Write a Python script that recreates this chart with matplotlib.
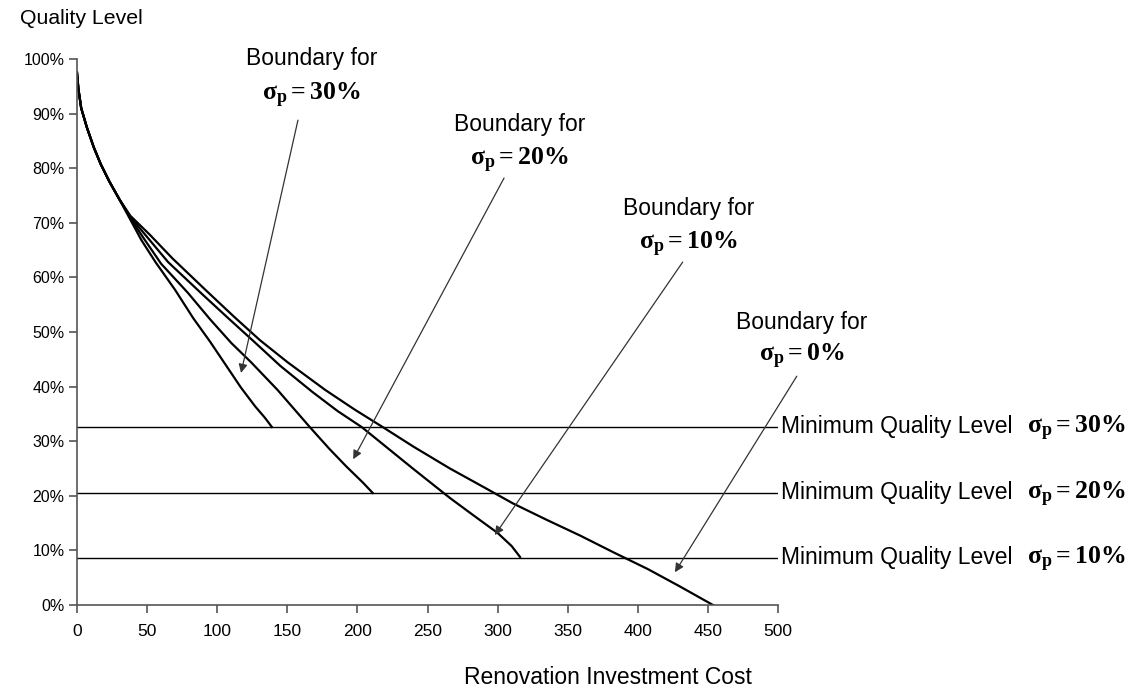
import numpy as np
import matplotlib
matplotlib.use("Agg")
import matplotlib.pyplot as plt
from matplotlib.ticker import FuncFormatter

plt.rcParams['font.family'] = ['Liberation Sans', 'DejaVu Sans']
plt.rcParams['mathtext.fontset'] = 'custom'
plt.rcParams['mathtext.rm'] = 'Liberation Serif:bold'
plt.rcParams['mathtext.it'] = 'Liberation Serif:bold'
plt.rcParams['mathtext.bf'] = 'Liberation Serif:bold'

# shared start of all boundaries
start_x = [0, 1, 3, 7, 12, 17, 23, 30]
start_y = [97.5, 94.5, 91.0, 87.5, 83.8, 80.7, 77.6, 74.4]

b30_x = [38, 46, 56, 70, 83, 95, 106, 117, 127, 134, 139]
b30_y = [70.6, 66.8, 62.8, 57.7, 52.5, 48.2, 44.0, 39.8, 36.4, 34.3, 32.6]

b20_x = [38, 48, 60, 79, 95, 110, 124, 143, 166, 180, 192, 204, 211]
b20_y = [70.9, 67.0, 62.5, 57.2, 52.3, 48.0, 44.5, 39.4, 32.6, 28.6, 25.4, 22.4, 20.5]

b10_x = [38, 50, 65, 89, 108, 126, 145, 168, 186, 203, 216, 240, 266, 285, 300, 310, 316]
b10_y = [71.1, 67.4, 62.8, 57.0, 52.5, 48.3, 43.8, 39.0, 35.5, 32.6, 29.9, 24.9, 19.6, 16.0, 13.2, 10.8, 8.8]

b0_x = [38, 52, 68, 92.5, 112, 130.5, 150, 177, 198, 218, 240, 266, 290, 311, 335, 359, 383, 407, 430, 453.6]
b0_y = [71.3, 67.8, 63.5, 57.5, 52.8, 48.5, 44.5, 39.4, 35.8, 32.6, 29.0, 25.0, 21.6, 18.6, 15.6, 12.7, 9.6, 6.6, 3.4, 0.0]

min_levels = [32.6, 20.5, 8.6]
min_labels = ['30%', '20%', '10%']

boundary_labels = ['30%', '20%', '10%', '0%']
# arrow tail (near text) and head (on curve) in data units
arrow_tail = [(157.6, 88.8), (304.6, 78.2), (432.0, 62.8), (513.4, 41.9)]
arrow_head = [(117.0, 42.5), (197.0, 26.7), (298.0, 12.8), (426.5, 6.0)]
# label centres in pixels (x, y of "Boundary for", y of sigma line)
label_px = [(312, 58, 95), (520, 125, 160), (689, 209, 244), (802, 322, 356)]

W, H = 1135, 690
fig = plt.figure(figsize=(W / 100, H / 100), dpi=100)
ax = fig.add_axes([77 / W, 1 - 605 / H, (778 - 77) / W, (605 - 59) / H])

for bx, by in [(b30_x, b30_y), (b20_x, b20_y), (b10_x, b10_y), (b0_x, b0_y)]:
    ax.plot(start_x + bx, start_y + by, color='black', lw=1.6, solid_joinstyle='round')

for lvl in min_levels:
    ax.axhline(lvl, color='black', lw=1.0)

for tail, head in zip(arrow_tail, arrow_head):
    ax.annotate('', xy=head, xytext=tail, annotation_clip=False,
                arrowprops=dict(arrowstyle='-|>', color='#333333', lw=0.9,
                                mutation_scale=13, shrinkA=0, shrinkB=0))

ax.set_xlim(0, 500)
ax.set_ylim(0, 100)
ax.set_xticks(np.arange(0, 501, 50))
ax.set_yticks(np.arange(0, 101, 10))
ax.yaxis.set_major_formatter(FuncFormatter(lambda v, p: '%d%%' % v))
for s in ['top', 'right']:
    ax.spines[s].set_visible(False)
for s in ['left', 'bottom']:
    ax.spines[s].set_color('#555555')
    ax.spines[s].set_linewidth(1.2)
ax.tick_params(axis='both', direction='out', length=6, width=1.2, color='#555555')
ax.tick_params(axis='x', labelsize=12.5, pad=8)
ax.tick_params(axis='y', labelsize=11.5, pad=3)

fig.text(20 / W, 1 - 18 / H, 'Quality Level', fontsize=15.3, va='center', ha='left')
fig.text(608 / W, 1 - 677 / H, 'Renovation Investment Cost', fontsize=16.5, va='center', ha='center')

for lab, (cx, y1, y2) in zip(boundary_labels, label_px):
    fig.text(cx / W, 1 - y1 / H, 'Boundary for', fontsize=16.5, ha='center', va='center')
    fig.text(cx / W, 1 - y2 / H, r'$\sigma_{p}=%s$' % lab.replace('%', r'\%'),
             fontsize=18.5, ha='center', va='center')

for lvl, lab in zip(min_levels, min_labels):
    ypx = 605 - lvl * 5.46
    fig.text(781 / W, 1 - (ypx - 1) / H, 'Minimum Quality Level', fontsize=16.5,
             ha='left', va='center')
    fig.text(1027 / W, 1 - (ypx + 1) / H, r'$\sigma_{p}=%s$' % lab.replace('%', r'\%'),
             fontsize=18.5, ha='left', va='center')

fig.savefig('out.png', dpi=100)
